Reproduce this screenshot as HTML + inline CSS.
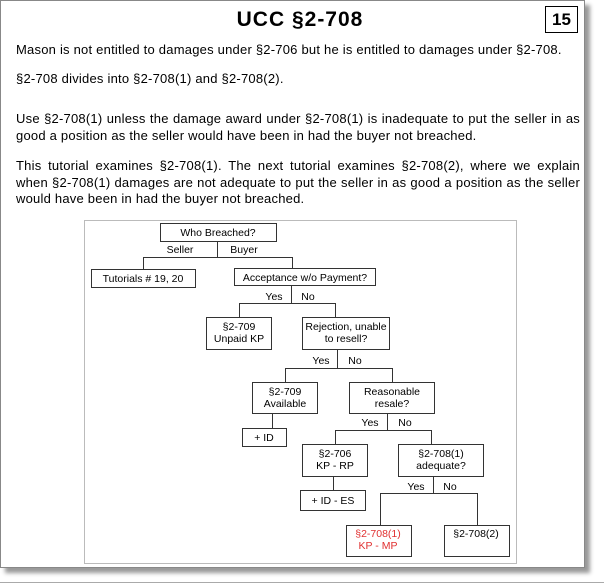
<!DOCTYPE html>
<html><head><meta charset="utf-8"><style>
body{margin:0;width:604px;height:585px;background:#fff;position:relative;overflow:hidden;font-family:"Liberation Sans",Arial,sans-serif}
#frame{position:absolute;left:0;top:0;width:583px;height:566px;border:1px solid #888;background:#fff;box-shadow:5px 5px 4px #999}
.t{position:absolute;left:16px;width:564px;font-size:13px;letter-spacing:0.22px;line-height:16.5px;color:#000;text-align:justify;text-align-last:left}
#title{position:absolute;left:0;width:600px;top:8px;text-align:center;font-weight:bold;font-size:21px;letter-spacing:1px}
#num{position:absolute;left:545px;top:6px;width:31px;height:25px;border:1px solid #000;font-weight:bold;font-size:17px;text-align:center;line-height:25px}
#bl{position:absolute;left:0;top:582px;width:604px;height:1px;background:#aaa}
</style></head><body>
<div id="frame"></div>
<div id="bl"></div>
<div id="title">UCC §2-708</div>
<div id="num">15</div>
<div class="t" style="top:42px">Mason is not entitled to damages under §2-706 but he is entitled to damages under §2-708.</div>
<div class="t" style="top:71px">§2-708 divides into §2-708(1) and §2-708(2).</div>
<div class="t" style="top:111px">Use §2-708(1) unless the damage award under §2-708(1) is inadequate to put the seller in as good a position as the seller would have been in had the buyer not breached.</div>
<div class="t" style="top:158px">This tutorial examines §2-708(1). The next tutorial examines §2-708(2), where we explain when §2-708(1) damages are not adequate to put the seller in as good a position as the seller would have been in had the buyer not breached.</div>
<svg style="position:absolute;left:0;top:0" width="604" height="585" font-family="Liberation Sans, Arial, sans-serif" font-size="10.5" text-anchor="middle">
<rect x="84.5" y="220.5" width="432" height="343" fill="#fff" stroke="#bbb"/>
<g fill="#fff" stroke="#333" stroke-width="1">
<rect x="160.5" y="223.5" width="116" height="18"/>
<rect x="91.5" y="269.5" width="104" height="18"/>
<rect x="234.5" y="268.5" width="141" height="17"/>
<rect x="206.5" y="317.5" width="65" height="32"/>
<rect x="302.5" y="317.5" width="87" height="32"/>
<rect x="252.5" y="382.5" width="65" height="31"/>
<rect x="349.5" y="382.5" width="85" height="31"/>
<rect x="242.5" y="428.5" width="44" height="18"/>
<rect x="302.5" y="444.5" width="65" height="32"/>
<rect x="398.5" y="444.5" width="85" height="32"/>
<rect x="300.5" y="490.5" width="65" height="20"/>
<rect x="346.5" y="525.5" width="65" height="31"/>
<rect x="444.5" y="525.5" width="65" height="31"/>
</g>
<g fill="none" stroke="#333">
<path d="M217.5 241v16M143.5 269v-11.5h149v11"/>
<path d="M291.5 285v18M239.5 317v-13.5h96v13.5"/>
<path d="M337.5 349v19M285.5 382v-13.5h107v13.5"/>
<path d="M272.5 413v15"/>
<path d="M387.5 413v17M335.5 444v-13.5h96v13.5"/>
<path d="M333.5 476v14"/>
<path d="M433.5 476v17M380.5 525v-31.5h97v31.5"/>
</g>
<g fill="#000">
<text x="218" y="236">Who Breached?</text>
<text x="180" y="253">Seller</text>
<text x="244" y="253">Buyer</text>
<text x="143" y="282">Tutorials # 19, 20</text>
<text x="305" y="281">Acceptance w/o Payment?</text>
<text x="274" y="300">Yes</text>
<text x="308" y="300">No</text>
<text x="239" y="330">§2-709</text>
<text x="239" y="342">Unpaid KP</text>
<text x="346" y="330">Rejection, unable</text>
<text x="346" y="342">to resell?</text>
<text x="321" y="364">Yes</text>
<text x="355" y="364">No</text>
<text x="285" y="395">§2-709</text>
<text x="285" y="407">Available</text>
<text x="392" y="395">Reasonable</text>
<text x="392" y="407">resale?</text>
<text x="264" y="441">+ ID</text>
<text x="370" y="426">Yes</text>
<text x="405" y="426">No</text>
<text x="335" y="457">§2-706</text>
<text x="335" y="469">KP - RP</text>
<text x="441" y="457">§2-708(1)</text>
<text x="441" y="469">adequate?</text>
<text x="333" y="504">+ ID - ES</text>
<text x="416" y="490">Yes</text>
<text x="450" y="490">No</text>
<text x="378" y="537" fill="#e03030">§2-708(1)</text>
<text x="378" y="549" fill="#e03030">KP - MP</text>
<text x="476" y="537">§2-708(2)</text>
</g>
</svg>
</body></html>
